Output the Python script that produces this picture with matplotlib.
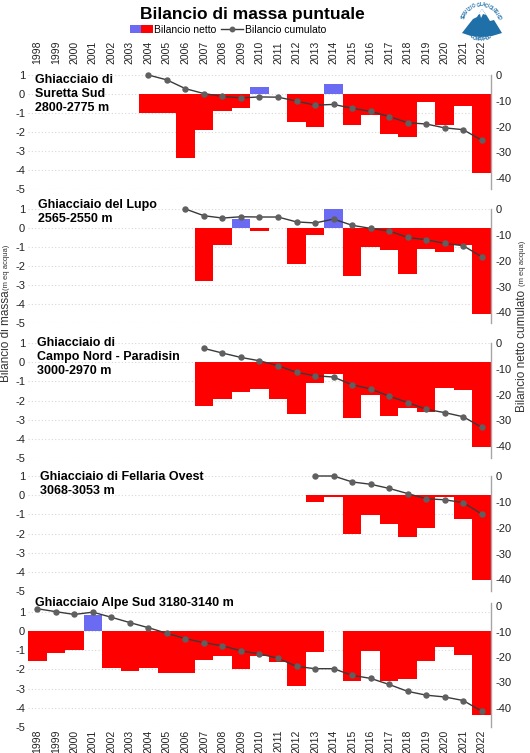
import numpy as np
import matplotlib
matplotlib.use("Agg")
import matplotlib.pyplot as plt
from matplotlib.patches import Patch, Polygon
from matplotlib.lines import Line2D
from matplotlib.legend_handler import HandlerTuple

plt.rcParams['font.family'] = ['Liberation Sans', 'DejaVu Sans']
plt.rcParams['axes.unicode_minus'] = False

W, H = 530, 753

years_all = list(range(1998, 2023))

# Ghiacciaio di Suretta Sud (2004-2022)
suretta_years = list(range(2004, 2023))
suretta_net = [-1.0, -1.0, -3.37, -1.9, -0.92, -0.75, 0.37, 0.0, -1.46, -1.74,
               0.52, -1.65, -1.08, -2.12, -2.28, -0.43, -1.63, -0.64, -4.14]
suretta_cum = [0.0, -1.9, -5.3, -7.2, -8.3, -8.9, -8.5, -8.6, -10.1, -11.7,
               -11.4, -12.9, -14.1, -16.1, -18.5, -19.0, -20.5, -21.2, -25.3]

# Ghiacciaio del Lupo (bars 2007-2022, cumulated 2006-2022)
lupo_years = list(range(2007, 2023))
lupo_net = [-2.8, -0.91, 0.46, -0.18, 0.0, -1.89, -0.37, 1.53, -2.5, -1.02,
            -1.16, -2.42, -1.09, -1.28, -0.88, -4.53]
lupo_cum_years = list(range(2006, 2023))
lupo_cum = [0.0, -2.6, -3.5, -3.0, -3.1, -3.1, -5.0, -5.4, -3.9, -6.3, -7.5,
            -8.5, -11.0, -11.9, -13.3, -14.2, -18.5]

# Ghiacciaio di Campo Nord - Paradisin (2007-2022)
campo_years = list(range(2007, 2023))
campo_net = [-2.3, -1.9, -1.58, -1.39, -1.9, -2.7, -1.08, -0.61, -2.9, -1.7,
             -2.83, -2.37, -2.6, -1.36, -1.44, -4.4]
campo_cum = [-2.1, -3.9, -5.6, -6.9, -8.8, -11.4, -12.7, -13.2, -16.2, -17.8,
             -20.6, -23.1, -25.7, -27.0, -28.6, -32.7]

# Ghiacciaio di Fellaria Ovest (2013-2022)
fellaria_years = list(range(2013, 2023))
fellaria_net = [-0.38, -0.08, -2.0, -1.03, -1.5, -2.17, -1.7, -0.08, -1.26, -4.4]
fellaria_cum = [0.0, 0.0, -2.3, -3.2, -4.8, -6.8, -8.8, -9.2, -10.3, -14.7]

# Ghiacciaio Alpe Sud (1998-2022)
alpe_years = list(range(1998, 2023))
alpe_net = [-1.54, -1.14, -1.0, 0.85, -1.94, -2.09, -1.94, -2.18, -2.18, -1.52,
            -1.31, -1.97, -1.31, -1.61, -2.87, -1.07, 0.0, -2.58, -1.04, -2.62,
            -2.48, -1.57, -0.81, -1.26, -4.36]
alpe_cum = [-1.05, -2.2, -3.3, -2.4, -4.4, -6.5, -8.5, -10.7, -12.8, -14.4,
            -15.6, -17.6, -18.8, -20.5, -23.7, -24.6, -24.6, -27.2, -28.4, -30.8,
            -33.5, -35.0, -35.7, -37.1, -41.3]

panels = [
    ("Ghiacciaio di\nSuretta Sud\n2800-2775 m", suretta_years, suretta_net,
     suretta_years, suretta_cum),
    ("Ghiacciaio del Lupo\n2565-2550 m", lupo_years, lupo_net,
     lupo_cum_years, lupo_cum),
    ("Ghiacciaio di\nCampo Nord - Paradisin\n3000-2970 m", campo_years, campo_net,
     campo_years, campo_cum),
    ("Ghiacciaio di Fellaria Ovest\n3068-3053 m", fellaria_years, fellaria_net,
     fellaria_years, fellaria_cum),
    ("Ghiacciaio Alpe Sud 3180-3140 m", alpe_years, alpe_net,
     alpe_years, alpe_cum),
]

# layout (pixels): top, bottom, left ylim top, right ylim, label position
layout = [
    (75, 189, 1.0, (-44.2, 0.0), (35, 74)),
    (209, 323, 1.0, (-44.1, 0.0), (38, 199)),
    (343, 458, 1.0, (-44.6, 0.0), (37, 337)),
    (476, 591, 1.0, (-44.5, 0.0), (40, 471)),
    (603, 727, 1.46, (-47.5, 1.2), (35, 597)),
]

RED = "#ff0000"
BLUE = "#6a6af2"
x0, x1 = 28, 491

fig = plt.figure(figsize=(W / 100, H / 100), dpi=100)

for i, ((name, yrs, net, cyrs, cum), (top, bot, ytop, rlim, lab)) in enumerate(zip(panels, layout)):
    ax = fig.add_axes([x0 / W, 1 - bot / H, (x1 - x0) / W, (bot - top) / H])
    cols = [BLUE if v > 0 else RED for v in net]
    ax.bar(yrs, net, width=1.0, color=cols, linewidth=0, zorder=2)
    ax.set_xlim(1997.5, 2022.5)
    ax.set_ylim(-5, ytop)
    ax.set_yticks(range(-5, 2))
    ax.set_yticklabels([str(v) for v in range(-5, 2)])
    ax.yaxis.grid(True, color="#d8d8d8", linestyle=(0, (1, 2)), linewidth=0.8)
    ax.set_axisbelow(True)
    for s in ax.spines.values():
        s.set_visible(False)
    ax.tick_params(axis="y", length=0, labelsize=8, pad=2, colors="#222222")
    ax.set_xticks(years_all)
    ax.set_xticklabels([str(y) for y in years_all], rotation=90)
    if i == 0:
        ax.tick_params(axis="x", length=0, labeltop=True, labelbottom=False,
                       labelsize=7.5, pad=8, colors="#222222")
    elif i == len(panels) - 1:
        ax.tick_params(axis="x", length=0, labelsize=7.5, pad=2, colors="#222222")
    else:
        ax.tick_params(axis="x", length=0, labelbottom=False)

    ax2 = ax.twinx()
    ax2.plot(cyrs, cum, color="#3a3a3a", linewidth=1.0, marker="o", markersize=3.6,
             markerfacecolor="#606060", markeredgecolor="#606060", clip_on=False, zorder=3)
    ax2.set_ylim(*rlim)
    ax2.set_yticks([0, -10, -20, -30, -40])
    ax2.set_yticklabels(["0", "-10", "-20", "-30", "-40"])
    for k, s in ax2.spines.items():
        s.set_visible(k == "right")
    ax2.spines["right"].set_color("#a6a6a6")
    ax2.spines["right"].set_linewidth(1.0)
    ax2.tick_params(axis="y", length=0, labelsize=8, pad=3, colors="#222222")

    fig.text(lab[0] / W, 1 - lab[1] / H, name, fontsize=9, fontweight="bold",
             ha="left", va="top", linespacing=1.2)

# title and legend
fig.text(252 / W, 1 - 14 / H, "Bilancio di massa puntuale", fontsize=12.5,
         fontweight="bold", ha="center", va="center")
h_bar = (Patch(facecolor=BLUE), Patch(facecolor=RED))
h_line = Line2D([], [], color="#3a3a3a", lw=1.0, marker="o", markersize=3.2,
                markerfacecolor="#606060", markeredgecolor="#606060")
fig.legend([h_bar, h_line], ["Bilancio netto", "Bilancio cumulato"],
           handler_map={tuple: HandlerTuple(ndivide=None, pad=0)},
           loc="center", bbox_to_anchor=(228 / W, 1 - 30 / H), ncol=2,
           frameon=False, fontsize=7.5, handlelength=2.2, handleheight=0.8,
           columnspacing=0.4, handletextpad=0.15, borderaxespad=0)

# axis titles
fig.text(6 / W, 1 - 336 / H, "Bilancio di massa", rotation=90, fontsize=8.5,
         color="#333333", ha="center", va="center")
fig.text(7 / W, 1 - 267 / H, "(m eq acqua)", rotation=90, fontsize=5.5,
         color="#333333", ha="center", va="center")
fig.text(522 / W, 1 - 351 / H, "Bilancio netto cumulato", rotation=90, fontsize=8.5,
         color="#333333", ha="center", va="center")
fig.text(523 / W, 1 - 263 / H, "(m eq acqua)", rotation=90, fontsize=5.5,
         color="#333333", ha="center", va="center")

# simple logo
logo_blue = "#1f6fa8"
cx, cy = 481, 22


def to_fig(pts):
    return [(x / W, 1 - y / H) for x, y in pts]


mount = [(462, 33), (469, 24), (473, 19), (477, 17), (482, 9), (487, 16),
         (490, 21), (494, 20), (502, 33), (492, 36), (481, 37), (471, 36)]
fig.patches.append(Polygon(to_fig(mount), closed=True, facecolor=logo_blue,
                           edgecolor="none", transform=fig.transFigure, figure=fig))
snow = [(478, 15), (482, 9), (486, 15), (483, 14), (481, 18), (480, 14)]
fig.patches.append(Polygon(to_fig(snow), closed=True, facecolor="white",
                           edgecolor="none", transform=fig.transFigure, figure=fig))
arc_text = "SERVIZIO GLACIOLOGICO"
angs = np.linspace(165, 15, len(arc_text))
for ch, a in zip(arc_text, angs):
    t = np.deg2rad(a)
    fig.text((cx + 18 * np.cos(t)) / W, 1 - (cy - 17 * np.sin(t)) / H, ch,
             fontsize=3.3, fontweight="bold", color=logo_blue, rotation=a - 90,
             ha="center", va="center")
bot_text = "LOMBARDO"
angs = np.linspace(240, 300, len(bot_text))
for ch, a in zip(bot_text, angs):
    t = np.deg2rad(a)
    fig.text((cx + 18 * np.cos(t)) / W, 1 - (cy - 17 * np.sin(t)) / H, ch,
             fontsize=3.3, fontweight="bold", color=logo_blue, rotation=a + 90,
             ha="center", va="center")

fig.savefig("out.png", dpi=100)
